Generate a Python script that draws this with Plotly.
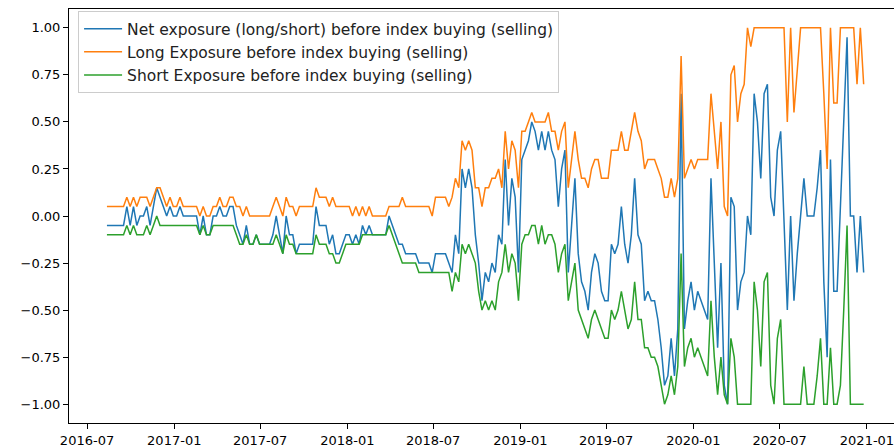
import pandas as pd
import plotly.graph_objects as go

# ---------------- data (weekly observations) ----------------
first_date = "2016-08-12"

long_exposure = [
    0.05, 0.05, 0.05, 0.05, 0.05, 0.05, 0.10, 0.05, 0.10, 0.05,
    0.10, 0.10, 0.10, 0.05, 0.10, 0.15, 0.15, 0.10, 0.05, 0.10,
    0.05, 0.05, 0.10, 0.05, 0.05, 0.05, 0.05, 0.05, 0.00, 0.05,
    0.00, 0.00, 0.05, 0.05, 0.10, 0.05, 0.05, 0.10, 0.10, 0.05,
    0.05, 0.00, 0.05, 0.00, 0.00, 0.00, 0.00, 0.00, 0.00, 0.00,
    0.05, 0.10, 0.05, 0.00, 0.10, 0.05, 0.05, 0.00, 0.05, 0.05,
    0.05, 0.05, 0.05, 0.15, 0.10, 0.10, 0.10, 0.05, 0.10, 0.05,
    0.05, 0.05, 0.05, 0.05, 0.00, 0.05, 0.00, 0.05, 0.00, 0.05,
    0.00, 0.00, 0.00, 0.00, 0.00, 0.05, 0.05, 0.05, 0.05, 0.10,
    0.05, 0.05, 0.05, 0.05, 0.05, 0.05, 0.05, 0.05, 0.00, 0.10,
    0.10, 0.10, 0.10, 0.05, 0.10, 0.20, 0.15, 0.40, 0.35, 0.40,
    0.35, 0.15, 0.15, 0.05, 0.15, 0.15, 0.20, 0.20, 0.25, 0.15,
    0.45, 0.25, 0.40, 0.35, 0.15, 0.45, 0.45, 0.50, 0.55, 0.50,
    0.50, 0.50, 0.50, 0.55, 0.45, 0.45, 0.35, 0.45, 0.50, 0.15,
    0.30, 0.45, 0.30, 0.20, 0.20, 0.15, 0.25, 0.30, 0.30, 0.20,
    0.20, 0.20, 0.35, 0.35, 0.35, 0.45, 0.35, 0.35, 0.45, 0.55,
    0.45, 0.40, 0.25, 0.30, 0.30, 0.30, 0.25, 0.20, 0.10, 0.10,
    0.20, 0.10, 0.20, 0.85, 0.20, 0.25, 0.30, 0.25, 0.30, 0.30,
    0.30, 0.30, 0.65, 0.45, 0.25, 0.50, 0.05, 0.00, 0.75, 0.80,
    0.50, 0.65, 0.70, 1.00, 0.90, 1.00, 1.00, 1.00, 1.00, 1.00,
    1.00, 1.00, 1.00, 1.00, 1.00, 0.50, 1.00, 0.55, 0.80, 1.00,
    1.00, 1.00, 1.00, 1.00, 1.00, 1.00, 0.65, 0.25, 1.00, 0.60,
    0.60, 1.00, 1.00, 1.00, 1.00, 1.00, 0.70, 1.00, 0.70,
]

short_exposure = [
    -0.10, -0.10, -0.10, -0.10, -0.10, -0.10, -0.05, -0.10, -0.05, -0.10,
    -0.10, -0.10, -0.05, -0.10, -0.05, 0.00, -0.05, -0.05, -0.05, -0.05,
    -0.05, -0.05, -0.05, -0.05, -0.05, -0.05, -0.05, -0.05, -0.10, -0.05,
    -0.10, -0.10, -0.05, -0.05, -0.05, -0.05, -0.05, -0.05, -0.05, -0.10,
    -0.15, -0.15, -0.10, -0.15, -0.15, -0.10, -0.15, -0.15, -0.15, -0.15,
    -0.15, -0.10, -0.15, -0.20, -0.10, -0.15, -0.15, -0.20, -0.20, -0.20,
    -0.20, -0.20, -0.20, -0.10, -0.15, -0.15, -0.15, -0.20, -0.20, -0.25,
    -0.25, -0.20, -0.15, -0.15, -0.15, -0.15, -0.15, -0.10, -0.10, -0.10,
    -0.10, -0.10, -0.10, -0.10, -0.10, -0.05, -0.10, -0.15, -0.20, -0.25,
    -0.25, -0.25, -0.25, -0.25, -0.30, -0.30, -0.30, -0.30, -0.30, -0.30,
    -0.30, -0.30, -0.30, -0.30, -0.40, -0.30, -0.35, -0.15, -0.20, -0.15,
    -0.20, -0.25, -0.40, -0.50, -0.45, -0.50, -0.45, -0.50, -0.35, -0.30,
    -0.15, -0.30, -0.20, -0.25, -0.45, -0.15, -0.10, -0.10, -0.05, -0.05,
    -0.15, -0.05, -0.15, -0.10, -0.10, -0.15, -0.30, -0.20, -0.15, -0.45,
    -0.35, -0.25, -0.50, -0.55, -0.60, -0.65, -0.55, -0.50, -0.55, -0.60,
    -0.65, -0.65, -0.50, -0.55, -0.50, -0.40, -0.50, -0.60, -0.55, -0.35,
    -0.55, -0.55, -0.70, -0.70, -0.75, -0.75, -0.80, -0.90, -1.00, -0.95,
    -0.85, -0.95, -0.80, -0.20, -0.80, -0.70, -0.65, -0.75, -0.70, -0.75,
    -0.80, -0.85, -0.45, -0.75, -0.95, -0.75, -0.95, -1.00, -0.65, -0.75,
    -1.00, -1.00, -1.00, -1.00, -1.00, -0.35, -0.50, -0.80, -0.35, -0.30,
    -0.90, -1.00, -0.65, -0.55, -1.00, -1.00, -1.00, -1.00, -1.00, -1.00,
    -0.80, -1.00, -1.00, -1.00, -0.85, -0.65, -1.00, -1.00, -0.70, -1.00,
    -1.00, -0.90, -0.50, -0.05, -1.00, -1.00, -1.00, -1.00, -1.00,
]

net_exposure = [
    -0.05, -0.05, -0.05, -0.05, -0.05, -0.05, 0.05, -0.05, 0.05, -0.05,
    0.00, 0.00, 0.05, -0.05, 0.05, 0.15, 0.10, 0.05, 0.00, 0.05,
    0.00, 0.00, 0.05, 0.00, 0.00, 0.00, 0.00, 0.00, -0.10, 0.00,
    -0.10, -0.10, 0.00, 0.00, 0.05, 0.00, 0.00, 0.05, 0.05, -0.05,
    -0.10, -0.15, -0.05, -0.15, -0.15, -0.10, -0.15, -0.15, -0.15, -0.15,
    -0.10, 0.00, -0.10, -0.20, 0.00, -0.10, -0.10, -0.20, -0.15, -0.15,
    -0.15, -0.15, -0.15, 0.05, -0.05, -0.05, -0.05, -0.15, -0.10, -0.20,
    -0.20, -0.15, -0.10, -0.10, -0.15, -0.10, -0.15, -0.05, -0.10, -0.05,
    -0.10, -0.10, -0.10, -0.10, -0.10, 0.00, -0.05, -0.10, -0.15, -0.15,
    -0.20, -0.20, -0.20, -0.20, -0.25, -0.25, -0.25, -0.25, -0.30, -0.20,
    -0.20, -0.20, -0.20, -0.25, -0.30, -0.10, -0.20, 0.25, 0.15, 0.25,
    0.15, -0.10, -0.25, -0.45, -0.30, -0.35, -0.25, -0.30, -0.10, -0.15,
    0.30, -0.05, 0.20, 0.10, -0.30, 0.30, 0.35, 0.40, 0.50, 0.45,
    0.35, 0.45, 0.35, 0.45, 0.35, 0.30, 0.05, 0.25, 0.35, -0.30,
    -0.05, 0.20, -0.20, -0.35, -0.40, -0.50, -0.30, -0.20, -0.25, -0.40,
    -0.45, -0.45, -0.15, -0.20, -0.15, 0.05, -0.15, -0.25, -0.10, 0.20,
    -0.10, -0.15, -0.45, -0.40, -0.45, -0.45, -0.55, -0.70, -0.90, -0.85,
    -0.65, -0.85, -0.60, 0.65, -0.60, -0.45, -0.35, -0.50, -0.40, -0.45,
    -0.50, -0.55, 0.20, -0.30, -0.70, -0.25, -0.90, -1.00, 0.10, 0.05,
    -0.50, -0.35, -0.30, 0.00, -0.10, 0.65, 0.50, 0.20, 0.65, 0.70,
    0.10, 0.00, 0.35, 0.45, 0.00, -0.50, 0.00, -0.45, -0.20, 0.00,
    0.20, 0.00, 0.00, 0.00, 0.15, 0.35, -0.35, -0.75, 0.30, -0.40,
    -0.40, 0.10, 0.50, 0.95, 0.00, 0.00, -0.30, 0.00, -0.30,
]

series_names = [
    "Net exposure (long/short) before index buying (selling)",
    "Long Exposure before index buying (selling)",
    "Short Exposure before index buying (selling)",
]

x_tick_dates = ["2016-07-01", "2017-01-01", "2017-07-01", "2018-01-01", "2018-07-01",
                "2019-01-01", "2019-07-01", "2020-01-01", "2020-07-01", "2021-01-01"]
x_tick_labels = ["2016-07", "2017-01", "2017-07", "2018-01", "2018-07",
                 "2019-01", "2019-07", "2020-01", "2020-07", "2021-01"]
y_tick_values = [-1.0, -0.75, -0.5, -0.25, 0.0, 0.25, 0.5, 0.75, 1.0]
y_tick_labels = ["\u22121.00", "\u22120.75", "\u22120.50", "\u22120.25", "0.00",
                 "0.25", "0.50", "0.75", "1.00"]

# ---------------- figure ----------------
n = min(len(net_exposure), len(long_exposure), len(short_exposure))
dates = pd.date_range(first_date, periods=n, freq="7D")

colors = ["#1f77b4", "#ff7f0e", "#2ca02c"]
series = [net_exposure, long_exposure, short_exposure]

fig = go.Figure()
for name, vals, col in zip(series_names, series, colors):
    fig.add_trace(go.Scatter(
        x=dates, y=vals[:n], mode="lines", name=name,
        line=dict(color=col, width=1.5),
    ))

FONT = "DejaVu Sans, Verdana, sans-serif"
TICK_FS = 13
LEGEND_FS = 15.5
fig.update_layout(
    width=894, height=448,
    margin=dict(l=69, r=0, t=9, b=25, autoexpand=False),
    paper_bgcolor="white", plot_bgcolor="white",
    font=dict(family=FONT, size=TICK_FS, color="black"),
    showlegend=True,
    legend=dict(
        x=0.011, y=0.995, xanchor="left", yanchor="top",
        bgcolor="rgba(255,255,255,0.8)", bordercolor="#cccccc", borderwidth=1,
        tracegroupgap=0, itemwidth=38,
        font=dict(family=FONT, size=LEGEND_FS, color="#222222"),
    ),
)
fig.update_xaxes(
    type="date", range=["2016-05-24", "2021-02-27"],
    tickvals=x_tick_dates, ticktext=x_tick_labels,
    ticks="outside", ticklen=5, tickwidth=1, tickcolor="black",
    tickfont=dict(family=FONT, size=TICK_FS, color="black"),
    ticklabeloverflow="allow",
    showline=True, linecolor="black", linewidth=1, mirror=True,
    showgrid=False, zeroline=False, automargin=False,
)
fig.update_yaxes(
    range=[-1.1, 1.1],
    tickvals=y_tick_values, ticktext=y_tick_labels,
    ticks="outside", ticklen=5, tickwidth=1, tickcolor="black",
    tickfont=dict(family=FONT, size=TICK_FS, color="black"),
    ticklabeloverflow="allow",
    showline=True, linecolor="black", linewidth=1, mirror=False,
    showgrid=False, zeroline=False, automargin=False,
)

fig.write_html(
    "out.html",
    config={"displayModeBar": False},
    post_script="document.body.style.margin='0';document.body.style.overflow='hidden';",
)
